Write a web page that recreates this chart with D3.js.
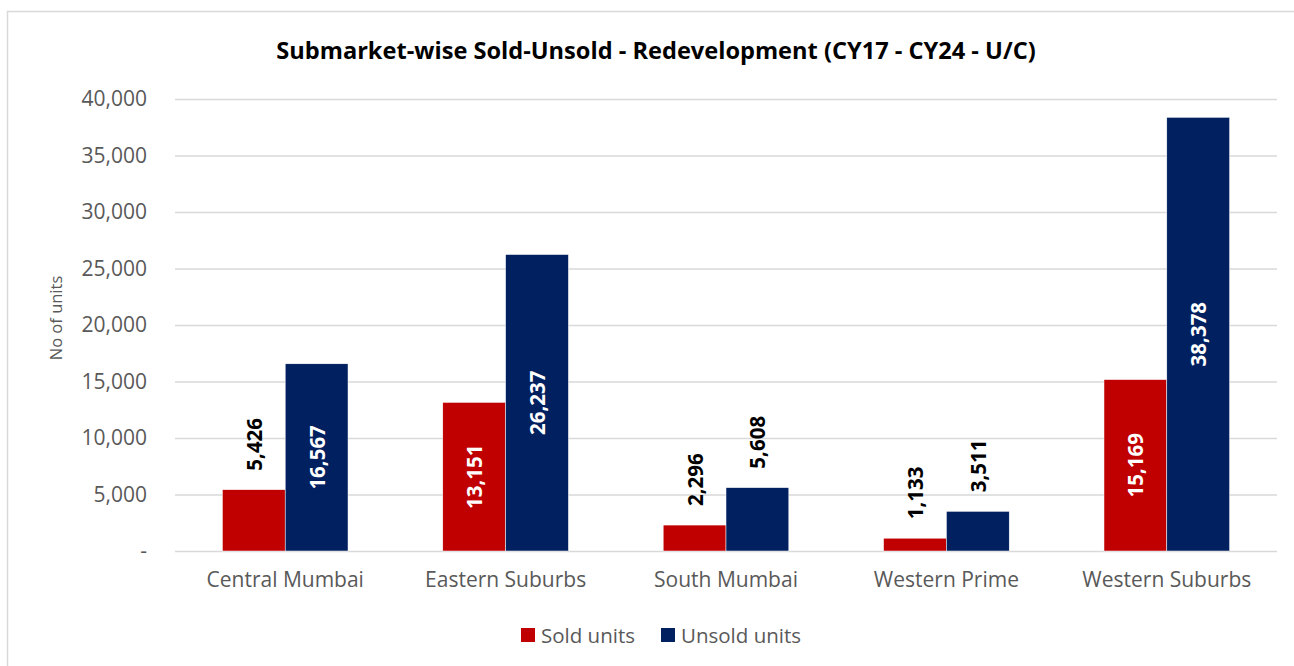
<!DOCTYPE html>
<html>
<head>
<meta charset="utf-8">
<script src="https://cdn.jsdelivr.net/npm/d3@7"></script>
<style>
  body { margin: 0; background: #fff; }
  text { font-family: "Open Sans", sans-serif; }
</style>
</head>
<body>
<script>
const width = 1294,
      height = 666;

// data
const categories = ["Central Mumbai", "Eastern Suburbs", "South Mumbai", "Western Prime", "Western Suburbs"];
const seriesNames = ["Sold units", "Unsold units"];
const soldUnits = [5426, 13151, 2296, 1133, 15169];
const unsoldUnits = [16567, 26237, 5608, 3511, 38378];
const yTicks = [0, 5000, 10000, 15000, 20000, 25000, 30000, 35000, 40000];
const colors = ["#C00000", "#002060"];

const margin = {top: 99, right: 17, bottom: 115, left: 175};

const svg = d3.select("body")
              .append("svg")
              .attr("width", width)
              .attr("height", height);

// chart frame
svg.append("rect")
   .attr("x", 7.5).attr("y", 11.5)
   .attr("width", width).attr("height", height)
   .attr("fill", "none")
   .attr("stroke", "#d9d9d9")
   .attr("stroke-width", 1.5);

svg.append("text")
   .attr("x", 656).attr("y", 59)
   .attr("text-anchor", "middle")
   .attr("font-size", 23.6)
   .attr("font-weight", "bold")
   .attr("fill", "#000")
   .text("Submarket-wise Sold-Unsold - Redevelopment (CY17 - CY24 - U/C)");

const x0 = d3.scaleBand()
             .domain(categories)
             .range([margin.left, width - margin.right])
             .paddingInner(0.43)
             .paddingOuter(0.215);

const x1 = d3.scaleBand()
             .domain(seriesNames)
             .range([0, x0.bandwidth()]);

const y = d3.scaleLinear()
            .domain([0, 40000])
            .range([height - margin.bottom, margin.top]);

const fmt = d3.format(",");

// gridlines + y labels
const yAxis = svg.append("g")
   .attr("transform", "translate(" + margin.left + ",0)")
   .call(d3.axisLeft(y)
           .tickValues(yTicks)
           .tickSize(-(width - margin.right - margin.left))
           .tickPadding(28)
           .tickFormat(d => d === 0 ? "-" : fmt(d)));
yAxis.select(".domain").remove();
yAxis.selectAll(".tick line").attr("stroke", "#d9d9d9").attr("stroke-width", 1.5);
yAxis.selectAll(".tick text")
     .attr("fill", "#595959")
     .attr("font-size", 21)
     .attr("font-family", "Open Sans, sans-serif");

svg.append("text")
   .attr("transform", "translate(55,318) rotate(-90)")
   .attr("text-anchor", "middle")
   .attr("dominant-baseline", "central")
   .attr("font-size", 16.5)
   .attr("fill", "#595959")
   .text("No of units");

// category labels
const xAxis = svg.append("g")
   .attr("transform", "translate(0," + y(0) + ")")
   .call(d3.axisBottom(x0).tickSize(0).tickPadding(21));
xAxis.select(".domain").remove();
xAxis.selectAll(".tick text")
     .attr("fill", "#595959")
     .attr("font-size", 21)
     .attr("font-family", "Open Sans, sans-serif");

const rows = categories.map((c, i) => ({
    cat: c,
    vals: [{s: seriesNames[0], v: soldUnits[i], c: colors[0]},
           {s: seriesNames[1], v: unsoldUnits[i], c: colors[1]}]
}));

const groups = svg.append("g")
   .selectAll("g")
   .data(rows)
   .enter()
   .append("g")
   .attr("transform", d => "translate(" + x0(d.cat) + ",0)");

groups.selectAll("rect")
   .data(d => d.vals)
   .enter()
   .append("rect")
   .attr("x", d => x1(d.s))
   .attr("y", d => y(d.v))
   .attr("width", x1.bandwidth())
   .attr("height", d => y(0) - y(d.v))
   .attr("fill", d => d.c)
   .attr("stroke", "#fff")
   .attr("stroke-width", 0.5);

// value labels: centered in bar when they fit, else just above it
groups.selectAll("text.val")
   .data(d => d.vals)
   .enter()
   .append("text")
   .attr("class", "val")
   .attr("font-size", 20.5)
   .attr("font-weight", "bold")
   .attr("dominant-baseline", "central")
   .text(d => fmt(d.v))
   .each(function(d) {
       var t = d3.select(this),
           len = this.getComputedTextLength(),
           cx = x1(d.s) + x1.bandwidth() / 2,
           h = y(0) - y(d.v);
       if (h > len + 30) {
           t.attr("text-anchor", "middle")
            .attr("fill", "#fff")
            .attr("transform", "translate(" + cx + "," + (y(d.v) + h / 2) + ") rotate(-90)");
       } else {
           t.attr("text-anchor", "start")
            .attr("fill", "#000")
            .attr("transform", "translate(" + cx + "," + (y(d.v) - 19) + ") rotate(-90)");
       }
   });

// legend
const legend = svg.append("g")
   .attr("transform", "translate(521,635)");
const li = legend.selectAll("g")
   .data(seriesNames)
   .enter()
   .append("g")
   .attr("transform", (d, i) => "translate(" + (i * 140) + ",0)");
li.append("rect")
  .attr("x", 0).attr("y", -7)
  .attr("width", 14).attr("height", 14)
  .attr("fill", (d, i) => colors[i]);
li.append("text")
  .attr("x", 20)
  .attr("dominant-baseline", "central")
  .attr("font-size", 20.5)
  .attr("fill", "#595959")
  .text(d => d);
</script>
</body>
</html>
